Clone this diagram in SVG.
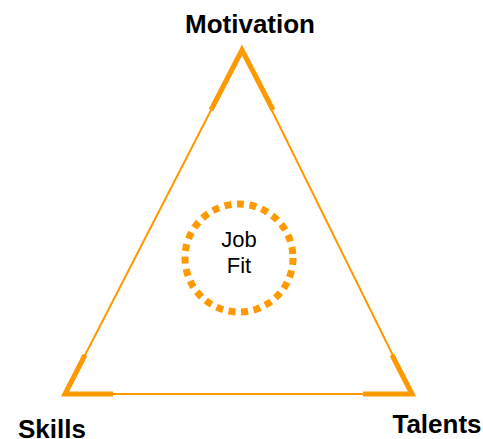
<svg xmlns="http://www.w3.org/2000/svg" width="483" height="439" viewBox="0 0 483 439">
<style>
.thin{fill:none;stroke:#FF9900;stroke-width:2}
.thick{fill:none;stroke:#FF9900;stroke-width:5;stroke-linejoin:miter;stroke-miterlimit:10}
.lbl{font-family:"Liberation Sans",Arial,sans-serif;font-weight:bold;font-size:26px;fill:#000;text-anchor:middle}
.inner{font-family:"Liberation Sans",Arial,sans-serif;font-size:22px;fill:#000;text-anchor:middle}
</style>
<rect width="483" height="439" fill="#fff"/>
<g id="connectors">
<polygon class="thin" points="242,50 65,394 412,394"/>
<polyline class="thick" points="211,110 242,50 273,110"/>
<polyline class="thick" points="85,355 65,394 113,394"/>
<polyline class="thick" points="363,394 412,394 392,355"/>
</g>
<g id="jobfit">
<circle cx="239" cy="258" r="54" fill="none" stroke="#FF9900" stroke-width="7" stroke-dasharray="7 5.6"/>
<text class="inner" x="239" y="247">Job</text>
<text class="inner" x="239" y="273">Fit</text>
</g>
<g id="motivation"><text class="lbl" x="250" y="33">Motivation</text></g>
<g id="skills"><text class="lbl" x="52" y="438">Skills</text></g>
<g id="talents"><text class="lbl" x="437" y="433">Talents</text></g>
</svg>
